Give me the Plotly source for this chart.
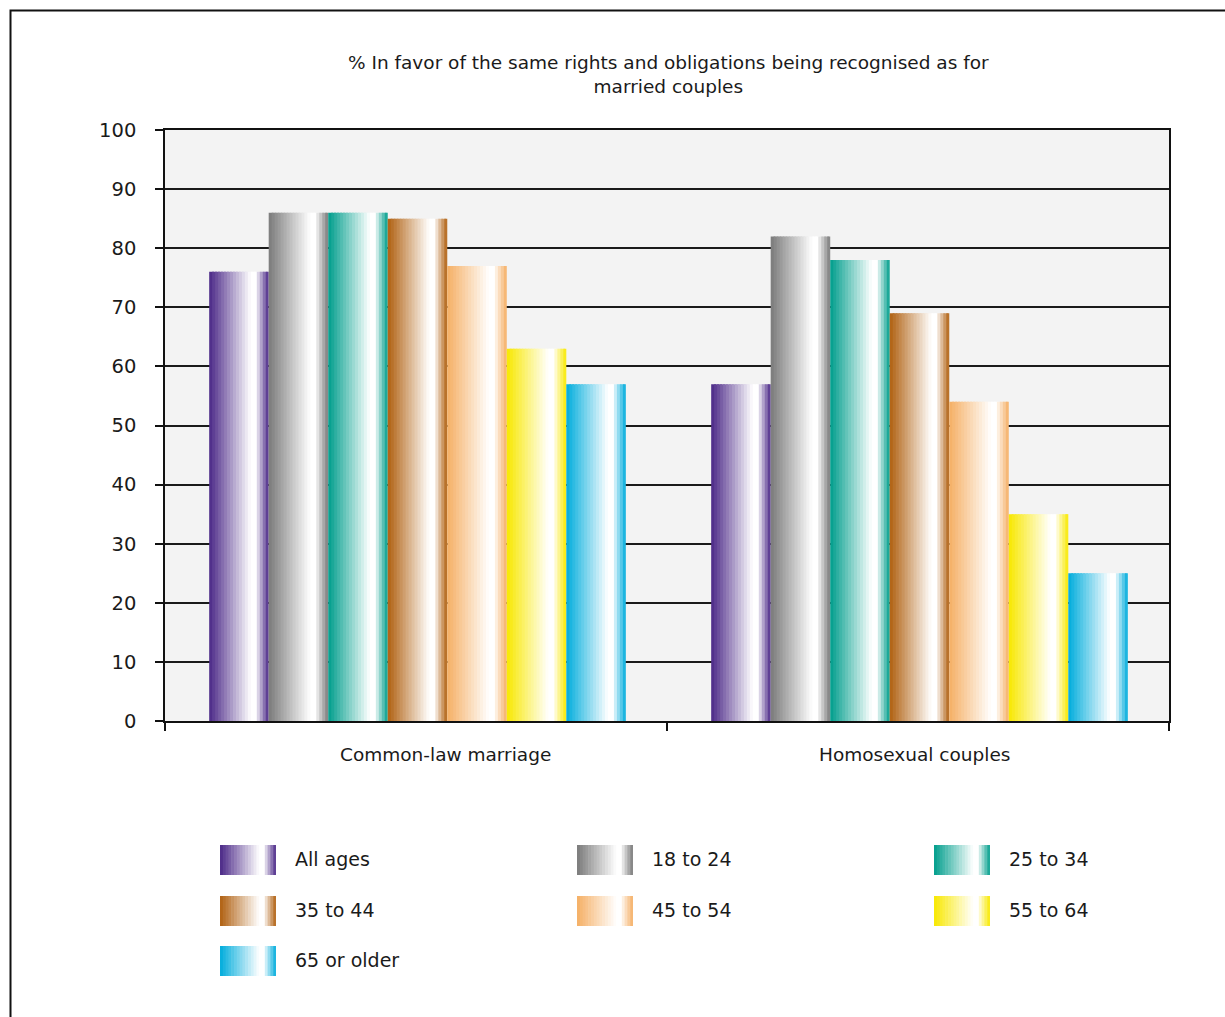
import plotly.graph_objects as go

# ---------------- data ----------------
categories = ["Common-law marriage", "Homosexual couples"]
series_names = ["All ages", "18 to 24", "25 to 34", "35 to 44", "45 to 54", "55 to 64", "65 or older"]
all_ages = [76, 57]
age_18_24 = [86, 82]
age_25_34 = [86, 78]
age_35_44 = [85, 69]
age_45_54 = [77, 54]
age_55_64 = [63, 35]
age_65_plus = [57, 25]
y_tick_values = list(range(0, 101, 10))
title_text = "% In favor of the same rights and obligations being recognised as for<br>married couples"

series_values = [all_ages, age_18_24, age_25_34, age_35_44, age_45_54, age_55_64, age_65_plus]
base_colors = [
    (75, 40, 135),
    (122, 122, 122),
    (0, 158, 140),
    (176, 96, 16),
    (245, 175, 100),
    (248, 232, 0),
    (0, 172, 220),
]

FONT = "DejaVu Sans"
TXT = "#1a1a1a"
N_SLICES = 20


def profile(t):
    if t < 0.74:
        return min(t / 0.70, 1.0)
    if t < 0.79:
        return 1.0
    return max((1.0 - t) / 0.22, 0.0)


def shade(base, m):
    r, g, b = base
    return "rgb(%d,%d,%d)" % (round(r + (255 - r) * m), round(g + (255 - g) * m), round(b + (255 - b) * m))


# ---------------- geometry (pixels) ----------------
W, H = 1225, 1017
L, R, T, B = 165, 1169, 130, 721
pw, ph = R - L, B - T


def px(x):
    return (x - L) / pw


def py(y):
    return (B - y) / ph


fig = go.Figure()

group_start = -0.412
group_width = 0.83
bar_w = group_width / len(series_names)
slice_w = bar_w / N_SLICES

for i, (name, vals, base) in enumerate(zip(series_names, series_values, base_colors)):
    for j in range(N_SLICES):
        t = (j + 0.5) / N_SLICES
        w = slice_w if j == N_SLICES - 1 else slice_w * 1.6
        fig.add_trace(go.Bar(
            x=categories,
            y=vals,
            name=name,
            width=w,
            offset=group_start + i * bar_w + j * slice_w,
            marker=dict(color=shade(base, profile(t)), line=dict(width=0)),
            showlegend=False,
            hovertemplate=name + ": %{y}<extra>%{x}</extra>",
        ))

shapes = []
annotations = []

# outer frame
shapes.append(dict(type="rect", xref="paper", yref="paper",
                   x0=px(10.5), x1=px(1240), y0=py(1030), y1=py(10.5),
                   line=dict(color="#111", width=2), fillcolor="rgba(0,0,0,0)", layer="below"))

# custom legend with gradient swatches
col_x = [220, 577, 934]
row_y = [845, 896, 946]
sw_w, sw_h = 56, 30
for k, (name, base) in enumerate(zip(series_names, base_colors)):
    cx = col_x[k % 3]
    ry = row_y[k // 3]
    sl = sw_w / N_SLICES
    for j in range(N_SLICES):
        t = (j + 0.5) / N_SLICES
        extra = 0 if j == N_SLICES - 1 else 0.6
        shapes.append(dict(type="rect", xref="paper", yref="paper",
                           x0=px(cx + j * sl), x1=px(cx + (j + 1) * sl + extra),
                           y0=py(ry + sw_h), y1=py(ry),
                           line=dict(width=0), fillcolor=shade(base, profile(t))))
    annotations.append(dict(xref="paper", yref="paper", x=px(cx + 73), y=py(ry + sw_h / 2 - 1),
                            text=name, showarrow=False, xanchor="left", yanchor="middle",
                            font=dict(family=FONT, size=19, color=TXT)))

# category labels
cat_label_x = [445, 914]
for c, lx in zip(categories, cat_label_x):
    annotations.append(dict(xref="paper", yref="paper", x=px(lx), y=py(754),
                            text=c, showarrow=False, xanchor="center", yanchor="middle",
                            font=dict(family=FONT, size=18.5, color=TXT)))

# title
annotations.append(dict(xref="paper", yref="paper", x=px(668), y=py(75),
                        text=title_text, showarrow=False, xanchor="center", yanchor="middle",
                        font=dict(family=FONT, size=18.5, color=TXT)))

fig.update_layout(
    width=W, height=H,
    margin=dict(l=L, r=W - R, t=T, b=H - B, pad=0),
    barmode="overlay",
    plot_bgcolor="#f3f3f3",
    paper_bgcolor="white",
    showlegend=False,
    shapes=shapes,
    annotations=annotations,
    font=dict(family=FONT, color=TXT),
    xaxis=dict(
        type="category",
        range=[-0.5, 1.5],
        tickson="boundaries",
        ticks="outside", ticklen=8, tickcolor="#111", tickwidth=1.5,
        showticklabels=False,
        showline=True, linecolor="#111", linewidth=1.5, mirror=True,
        showgrid=False, zeroline=False,
    ),
    yaxis=dict(
        range=[0, 100],
        tickvals=y_tick_values,
        ticks="outside", ticklen=8, tickcolor="#111", tickwidth=1.5,
        ticklabelstandoff=15,
        tickfont=dict(family=FONT, size=19.5, color=TXT),
        showline=True, linecolor="#111", linewidth=1.5, mirror=True,
        showgrid=True, gridcolor="#1a1a1a", gridwidth=1.5,
        zeroline=False,
    ),
)

fig.write_html("out.html", config={"displayModeBar": False},
               post_script="document.body.style.margin='0';")
